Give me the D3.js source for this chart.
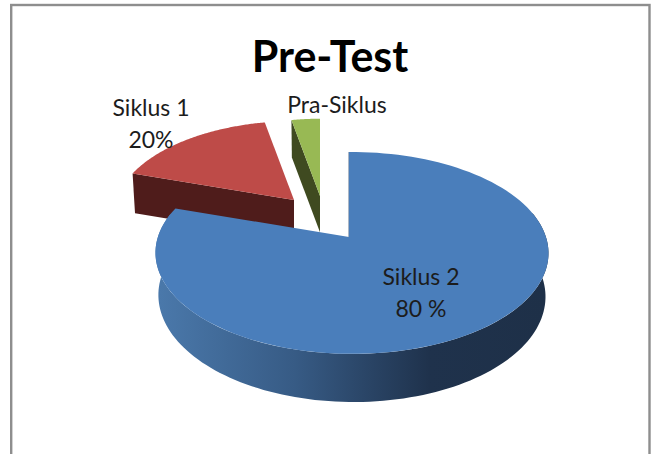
<!DOCTYPE html>
<html>
<head>
<meta charset="utf-8">
<script src="https://cdn.jsdelivr.net/npm/d3@7"></script>
<style>
  html, body { margin: 0; padding: 0; background: #fff; overflow: hidden; }
  text { font-family: Lato, "Open Sans", sans-serif; fill: #1c1c1c; }
</style>
</head>
<body>
<div id="chart"></div>
<script>
// Slice shares (the printed labels say something else)
const categories = ["Siklus 2", "Siklus 1", "Pra-Siklus"];
const shares = [80, 17, 3];
const faceColors = ["#4a7ebb", "#be4b48", "#98b954"];
const sideColors = ["url(#blueSide)", "#4f1c1b", "#3f4a20"];
const labelLines = [["Siklus 2", "80 %"], ["Siklus 1", "20%"], ["Pra-Siklus"]];

const width = 655;
const height = 454;

const svg = d3.select("#chart")
  .append("svg")
  .attr("width", width)
  .attr("height", height)
  .style("display", "block");

// Chart frame, runs off the bottom of the picture
svg.append("rect")
  .attr("x", 11.2)
  .attr("y", 5)
  .attr("width", 638.3)
  .attr("height", 480)
  .attr("fill", "#fff")
  .attr("stroke", "#8e8e8e")
  .attr("stroke-width", 2.4);

// Side shading on the big slice
const grad = svg.append("defs").append("linearGradient")
  .attr("id", "blueSide")
  .attr("gradientUnits", "userSpaceOnUse")
  .attr("x1", 160).attr("x2", 545)
  .attr("y1", 0).attr("y2", 0);
grad.selectAll("stop")
  .data([[0, "#4a78aa"], [0.35, "#375b85"], [0.7, "#1f324c"], [1, "#1e3048"]])
  .enter()
  .append("stop")
  .attr("offset", d => d[0])
  .attr("stop-color", d => d[1]);

const arcs = d3.pie().sort(null).value(d => d)(shares);

// Where each slice sits after the explode, and how big it is
const sliceSetup = [
  { ax: 349, ay: 237, r: 1 },
  { ax: 294, ay: 200, r: 0.93 },
  { ax: 320, ay: 196, r: 0.91 }
];

// Perspective of the tilted pie
const rx = 194;
const ry = 98.4;
const persp = 0.158;
const skew = -0.015;
const depth = 42;
const shrink = 0.985;

function project(s, a, r, lower) {
  const w = 1 + persp * Math.cos(a) + skew * Math.sin(a);
  const k = lower ? shrink : 1;
  return [
    s.ax + k * r * rx * Math.sin(a) / w,
    s.ay - k * r * ry * Math.cos(a) / w + (lower ? depth / w : 0)
  ];
}

const line = d3.line();

function faceData(s, d) {
  const pts = [[s.ax, s.ay]];
  d3.range(0, 121).forEach(i => {
    const a = d.startAngle + (d.endAngle - d.startAngle) * i / 120;
    pts.push(project(s, a, s.r, false));
  });
  return pts;
}

// Outer wall of the big slice, only the part facing the viewer
function outerWall(s) {
  const top = [];
  const low = [];
  d3.range(0, 121).forEach(i => {
    const a = Math.PI * 0.42 + Math.PI * 1.16 * i / 120;
    top.push(project(s, a, s.r, false));
    low.push(project(s, a, s.r, true));
  });
  return top.concat(low.reverse());
}

// Cut wall of a small slice, from its far corner to the apex
function cutWall(s, a) {
  return [
    project(s, a, s.r, false),
    project(s, a, 0, false),
    project(s, a, 0, true),
    project(s, a, s.r, true)
  ];
}

// Small slices first, the big one overlaps them
[1, 2, 0].forEach(i => {
  const s = sliceSetup[i];
  const d = arcs[i];
  const g = svg.append("g").attr("class", "slice").attr("data-name", categories[i]);

  if (i === 0) {
    g.append("path")
      .attr("d", line(outerWall(s)) + "Z")
      .attr("fill", sideColors[i]);
    // thin dark edge along the straight cut
    g.append("path")
      .attr("d", line([project(s, 0, 1, false), project(s, 0, 0, false)]))
      .attr("stroke", "#2c4a6e")
      .attr("stroke-width", 0.8);
  } else {
    g.append("path")
      .attr("d", line(cutWall(s, d.startAngle)) + "Z")
      .attr("fill", sideColors[i]);
  }

  g.append("path")
    .attr("d", line(faceData(s, d)) + "Z")
    .attr("fill", faceColors[i]);
});

// Title
svg.append("text")
  .attr("x", 330)
  .attr("y", 72)
  .attr("text-anchor", "middle")
  .style("font-size", "43px")
  .style("font-weight", "bold")
  .style("fill", "#000")
  .text("Pre-Test");

// Data labels
const labelPos = [[421, 285], [151, 116], [337, 113]];
labelLines.forEach((lines, i) => {
  const t = svg.append("text")
    .attr("text-anchor", "middle")
    .style("font-size", "23px");
  lines.forEach((str, j) => {
    t.append("tspan")
      .attr("x", labelPos[i][0])
      .attr("y", labelPos[i][1] + j * 32)
      .text(str);
  });
});
</script>
</body>
</html>
